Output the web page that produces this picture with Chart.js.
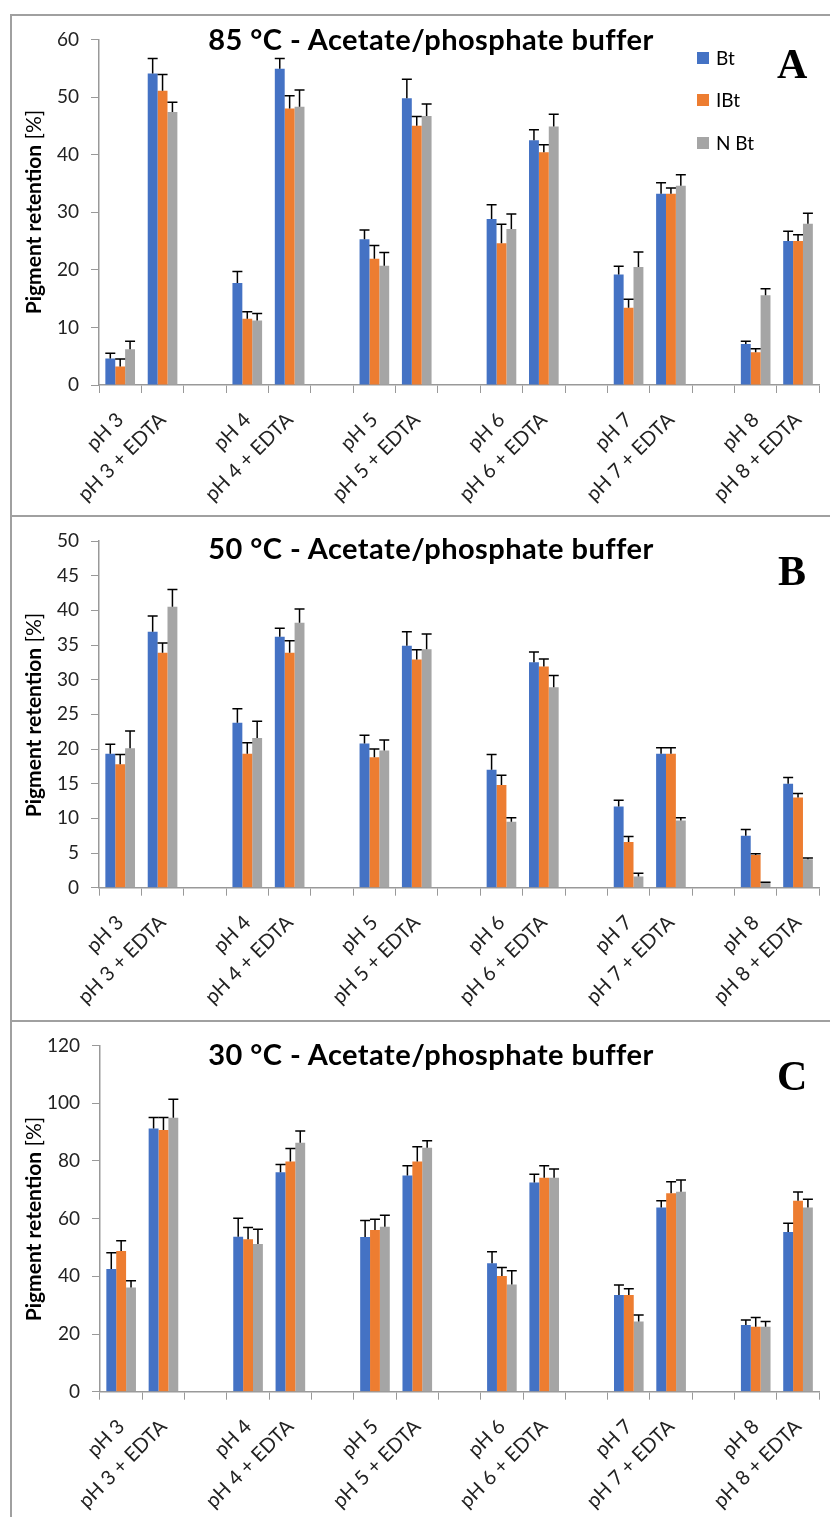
<!DOCTYPE html>
<html>
<head>
<meta charset="utf-8">
<script src="https://cdn.jsdelivr.net/npm/chart.js@4.4.0/dist/chart.umd.min.js"></script>
<style>
  html, body { margin: 0; padding: 0; background: #fff; }
  body { width: 830px; height: 1517px; position: relative; overflow: hidden; font-family: Lato, sans-serif; color: #000; }
  .panel { position: absolute; left: 10px; width: 840px; border: 2px solid #a0a0a0; box-sizing: border-box; }
  canvas { position: absolute; left: 12px; }
  .title { position: absolute; transform: translateX(-50%); font-weight: bold; font-size: 29px; letter-spacing: 0.45px; line-height: 1; white-space: nowrap; }
  .tag { position: absolute; font-family: 'Liberation Serif', serif; font-weight: bold; font-size: 42px; line-height: 1; }
  .ytitle { position: absolute; left: 32px; transform: translate(-50%, -50%) rotate(-90deg); font-size: 21px; line-height: 1; white-space: nowrap; }
  .key { position: absolute; left: 697px; width: 12px; height: 12px; }
  .keytxt { position: absolute; left: 716px; font-size: 19px; line-height: 1; }
</style>
</head>
<body>
<div class="panel" style="top:14px;height:503px"></div>
<div class="panel" style="top:515px;height:507px"></div>
<div class="panel" style="top:1020px;height:520px"></div>

<canvas id="chartA" width="818" height="497" style="top:16px"></canvas>
<canvas id="chartB" width="818" height="501" style="top:517px"></canvas>
<canvas id="chartC" width="818" height="495" style="top:1022px"></canvas>

<div class="title" style="left:431px;top:24.3px">85 °C - Acetate/phosphate buffer</div>
<div class="title" style="left:431px;top:532.7px">50 °C - Acetate/phosphate buffer</div>
<div class="title" style="left:431px;top:1039.3px">30 °C - Acetate/phosphate buffer</div>

<div class="tag" style="left:777px;top:42.5px">A</div>
<div class="tag" style="left:778px;top:549.5px">B</div>
<div class="tag" style="left:777px;top:1055px">C</div>

<div class="ytitle" style="top:211.5px"><b>Pigment retention</b> [%]</div>
<div class="ytitle" style="top:714.5px"><b>Pigment retention</b> [%]</div>
<div class="ytitle" style="top:1218.5px"><b>Pigment retention</b> [%]</div>

<div id="legend"></div>

<script>
// conditions on the x axis (a blank slot is left between each pH pair)
const conditions = ['pH 3', 'pH 3 + EDTA', 'pH 4', 'pH 4 + EDTA', 'pH 5', 'pH 5 + EDTA',
                    'pH 6', 'pH 6 + EDTA', 'pH 7', 'pH 7 + EDTA', 'pH 8', 'pH 8 + EDTA'];
const seriesNames = ['Bt', 'IBt', 'N Bt'];
const seriesColors = ['#4472C4', '#ED7D31', '#A5A5A5'];

// 85 C
const bt85 = [4.6, 54.1, 17.7, 54.9, 25.3, 49.8, 28.8, 42.5, 19.2, 33.2, 7.1, 25.0];
const ibt85 = [3.2, 51.1, 11.5, 48.0, 21.9, 45.0, 24.6, 40.4, 13.4, 33.2, 5.7, 25.0];
const nbt85 = [6.2, 47.4, 11.2, 48.3, 20.7, 46.7, 27.1, 44.9, 20.5, 34.6, 15.6, 28.0];
const bt85Err = [0.9, 2.6, 2.0, 1.8, 1.6, 3.3, 2.5, 1.8, 1.4, 1.9, 0.5, 1.7];
const ibt85Err = [1.3, 2.8, 1.2, 2.2, 2.3, 1.6, 3.3, 1.3, 1.5, 1.0, 0.6, 1.1];
const nbt85Err = [1.4, 1.7, 1.2, 2.9, 2.3, 2.1, 2.6, 2.1, 2.6, 1.9, 1.1, 1.8];

// 50 C
const bt50 = [19.3, 36.9, 23.8, 36.2, 20.8, 34.9, 17.0, 32.5, 11.7, 19.3, 7.5, 15.0];
const ibt50 = [17.8, 33.9, 19.3, 33.9, 18.8, 32.9, 14.8, 31.9, 6.6, 19.3, 4.7, 13.0];
const nbt50 = [20.1, 40.5, 21.6, 38.2, 19.8, 34.4, 9.5, 28.9, 1.6, 9.7, 0.7, 4.1];
const bt50Err = [1.4, 2.3, 2.0, 1.2, 1.2, 2.0, 2.2, 1.5, 0.9, 0.9, 0.9, 0.9];
const ibt50Err = [1.4, 1.4, 1.6, 1.7, 1.2, 1.4, 1.4, 1.1, 0.8, 0.9, 0.2, 0.6];
const nbt50Err = [2.5, 2.5, 2.4, 2.0, 1.5, 2.2, 0.6, 1.7, 0.5, 0.4, 0.1, 0.2];

// 30 C
const bt30 = [42.5, 91.3, 53.7, 76.1, 53.6, 75.0, 44.5, 72.5, 33.5, 63.9, 23.1, 55.4];
const ibt30 = [48.8, 90.7, 52.9, 79.8, 56.1, 79.8, 40.1, 74.2, 33.5, 68.8, 22.5, 66.2];
const nbt30 = [36.1, 95.0, 51.2, 86.3, 57.2, 84.6, 37.2, 74.2, 24.3, 69.3, 22.5, 63.9];
const bt30Err = [5.7, 3.8, 6.4, 2.7, 5.8, 3.3, 4.0, 2.9, 3.5, 2.3, 1.8, 3.0];
const ibt30Err = [3.5, 4.4, 4.0, 4.5, 3.7, 5.1, 3.0, 4.1, 2.2, 4.0, 3.2, 3.0];
const nbt30Err = [2.4, 6.4, 5.1, 4.1, 4.0, 2.4, 4.7, 3.0, 2.3, 4.1, 1.8, 2.8];

// y axis ticks per panel
const yTicks85 = [0, 10, 20, 30, 40, 50, 60];
const yTicks50 = [0, 5, 10, 15, 20, 25, 30, 35, 40, 45, 50];
const yTicks30 = [0, 20, 40, 60, 80, 100, 120];

// put an empty slot after every pair
function withGaps(arr, blank) {
    const out = [];
    arr.forEach((v, i) => {
        out.push(v);
        if (i % 2 === 1 && i < arr.length - 1) out.push(blank);
    });
    return out;
}

// upper error bars with a cap
const errorBars = {
    id: 'errorBars',
    afterDatasetsDraw(chart) {
        const ctx = chart.ctx;
        const y = chart.scales.y;
        ctx.save();
        ctx.strokeStyle = '#000';
        ctx.lineWidth = 1.5;
        chart.data.datasets.forEach((ds, di) => {
            chart.getDatasetMeta(di).data.forEach((bar, i) => {
                const v = ds.data[i], e = ds.errors[i];
                if (v == null || e == null) return;
                const top = y.getPixelForValue(v + e);
                ctx.beginPath();
                ctx.moveTo(bar.x, bar.y);
                ctx.lineTo(bar.x, top);
                ctx.moveTo(bar.x - 5, top);
                ctx.lineTo(bar.x + 5, top);
                ctx.stroke();
            });
        });
        ctx.restore();
    }
};

function makeChart(id, values, errors, ticks, layout) {
    const ctx = document.getElementById(id).getContext('2d');
    new Chart(ctx, {
        type: 'bar',
        data: {
            labels: withGaps(conditions, ''),
            datasets: values.map((vals, k) => ({
                label: seriesNames[k],
                data: withGaps(vals, null),
                errors: withGaps(errors[k], null),
                backgroundColor: seriesColors[k],
                categoryPercentage: 0.7,
                barPercentage: 1.0
            }))
        },
        options: {
            responsive: false,
            animation: false,
            layout: { padding: { top: layout.padTop, left: 0, right: 0, bottom: 0 } },
            plugins: { legend: { display: false }, tooltip: { enabled: false } },
            scales: {
                x: {
                    grid: { display: true, drawOnChartArea: false, drawTicks: true, tickLength: 8, color: '#999', offset: true },
                    border: { display: true, color: '#999', width: 1.5 },
                    ticks: {
                        autoSkip: false, maxRotation: 45, minRotation: 45, padding: 15,
                        color: '#222', font: { family: 'Lato', size: 20 }
                    },
                    afterFit: (scale) => { scale.height = layout.xHeight; }
                },
                y: {
                    min: ticks[0],
                    max: ticks[ticks.length - 1],
                    afterBuildTicks: (scale) => { scale.ticks = ticks.map(v => ({ value: v })); },
                    grid: { display: true, drawOnChartArea: false, drawTicks: true, tickLength: 8, color: '#999' },
                    border: { display: true, color: '#999', width: 1.5 },
                    ticks: { padding: 12, color: '#222', font: { family: 'Lato', size: 19 } },
                    afterFit: (scale) => { scale.width = layout.yWidth; }
                }
            }
        },
        plugins: [errorBars]
    });
}

makeChart('chartA', [bt85, ibt85, nbt85], [bt85Err, ibt85Err, nbt85Err], yTicks85,
    { padTop: 22.3, xHeight: 128, yWidth: 87 });
makeChart('chartB', [bt50, ibt50, nbt50], [bt50Err, ibt50Err, nbt50Err], yTicks50,
    { padTop: 24, xHeight: 130.3, yWidth: 87 });
makeChart('chartC', [bt30, ibt30, nbt30], [bt30Err, ibt30Err, nbt30Err], yTicks30,
    { padTop: 23.6, xHeight: 125.3, yWidth: 88 });

// legend only on the first panel
const legend = document.getElementById('legend');
const keyTops = [52, 94, 136.5];
seriesNames.forEach((name, k) => {
    const box = document.createElement('div');
    box.className = 'key';
    box.style.top = keyTops[k] + 'px';
    box.style.background = seriesColors[k];
    legend.appendChild(box);
    const txt = document.createElement('div');
    txt.className = 'keytxt';
    txt.style.top = (keyTops[k] - 4) + 'px';
    txt.textContent = name;
    legend.appendChild(txt);
});
</script>
</body>
</html>
